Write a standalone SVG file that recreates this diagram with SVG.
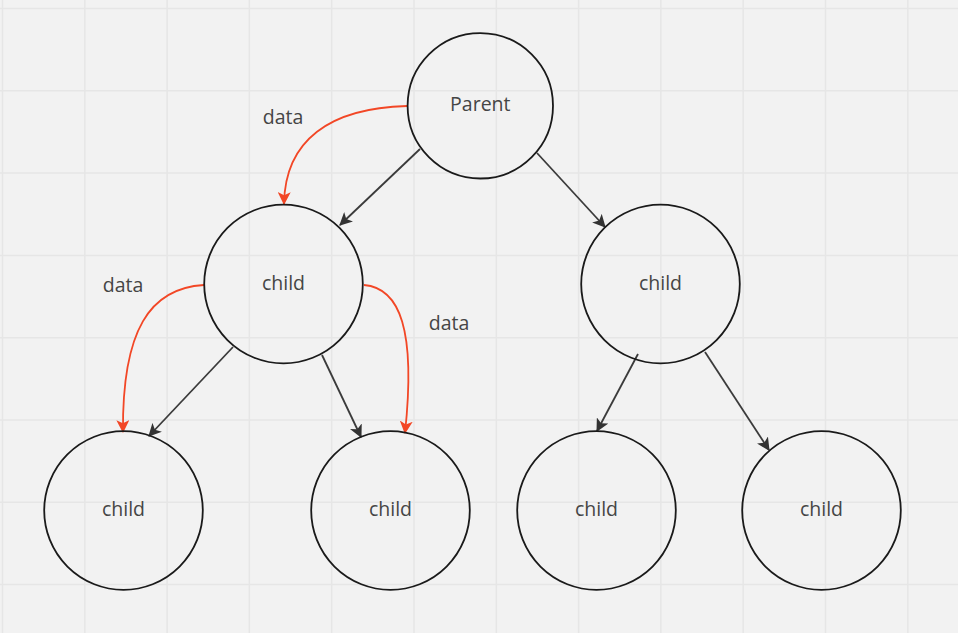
<svg xmlns="http://www.w3.org/2000/svg" width="958" height="633" viewBox="0 0 958 633">
<defs>
<style>
.node{fill:none;stroke:#1a1a1a;stroke-width:1.8}
.lbl{font-family:"Open Sans","Noto Sans",sans-serif;font-size:19.5px;fill:#454545;text-anchor:middle}
.edge{fill:none;stroke:#3b3b3b;stroke-width:1.8}
.red{fill:none;stroke:#f24726;stroke-width:1.8}
.grid{stroke:#e6e6e6;stroke-width:1.5}
</style>
<marker id="ah" viewBox="0 0 12 12" refX="11" refY="6" markerWidth="13" markerHeight="13" markerUnits="userSpaceOnUse" orient="auto"><path d="M0,0 L12,6 L0,12 L3,6 Z" fill="#333"/></marker>
<marker id="ahr" viewBox="0 0 12 12" refX="11" refY="6" markerWidth="13" markerHeight="13" markerUnits="userSpaceOnUse" orient="auto"><path d="M0,0 L12,6 L0,12 L3,6 Z" fill="#f24726"/></marker>
</defs>
<rect width="958" height="633" fill="#f2f2f2"/>
<g id="grid">
<path class="grid" d="M2.5,0V633M84.8,0V633M167.1,0V633M249.4,0V633M331.7,0V633M414,0V633M496.3,0V633M578.6,0V633M660.9,0V633M743.2,0V633M825.5,0V633M907.8,0V633M0,8.5H958M0,90.8H958M0,173.1H958M0,255.4H958M0,337.7H958M0,420H958M0,502.3H958M0,584.6H958"/>
</g>
<g id="connectors">
<line class="edge" x1="420" y1="149" x2="340" y2="225" marker-end="url(#ah)"/>
<line class="edge" x1="537" y1="153" x2="605" y2="227" marker-end="url(#ah)"/>
<line class="edge" x1="233" y1="347" x2="149" y2="436" marker-end="url(#ah)"/>
<line class="edge" x1="322" y1="355" x2="361" y2="437" marker-end="url(#ah)"/>
<line class="edge" x1="638" y1="354" x2="597" y2="431" marker-end="url(#ah)"/>
<line class="edge" x1="705" y1="352" x2="769" y2="450" marker-end="url(#ah)"/>
<path class="red" d="M407,106 C330,108 285,140 284,204" marker-end="url(#ahr)"/>
<path class="red" d="M204,285 C150,288 122,330 123,432" marker-end="url(#ahr)"/>
<path class="red" d="M364,285 C400,288 416,330 405,433" marker-end="url(#ahr)"/>
</g>
<g id="labels">
<text class="lbl" x="283" y="124">data</text>
<text class="lbl" x="123" y="292">data</text>
<text class="lbl" x="449" y="330">data</text>
</g>
<g id="parent"><circle class="node" cx="480.3" cy="105.8" r="72.7"/><text class="lbl" x="480.3" y="111">Parent</text></g>
<g id="child-left"><circle class="node" cx="283.5" cy="284" r="79.3"/><text class="lbl" x="283.5" y="290">child</text></g>
<g id="child-right"><circle class="node" cx="660.5" cy="284" r="79.3"/><text class="lbl" x="660.5" y="290">child</text></g>
<g id="child-1"><circle class="node" cx="123.5" cy="510.5" r="79.3"/><text class="lbl" x="123.5" y="516">child</text></g>
<g id="child-2"><circle class="node" cx="390.5" cy="510.5" r="79.3"/><text class="lbl" x="390.5" y="516">child</text></g>
<g id="child-3"><circle class="node" cx="596.5" cy="510.5" r="79.3"/><text class="lbl" x="596.5" y="516">child</text></g>
<g id="child-4"><circle class="node" cx="821.5" cy="510.5" r="79.3"/><text class="lbl" x="821.5" y="516">child</text></g>
</svg>
